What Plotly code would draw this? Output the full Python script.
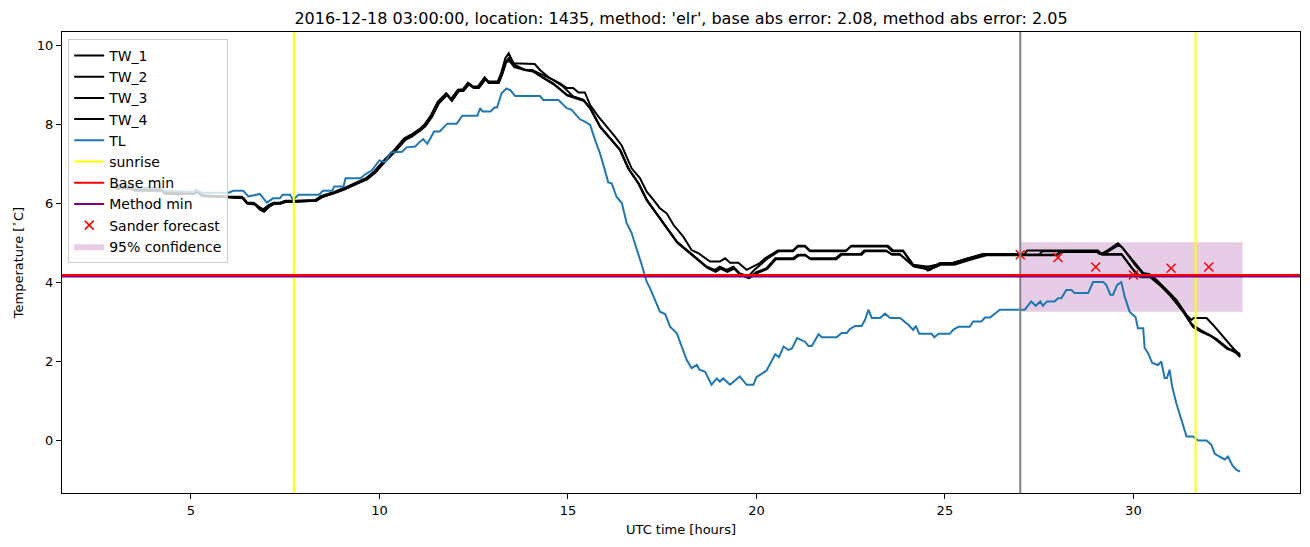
import plotly.graph_objects as go

# ---------------- data ----------------
tl_hours = [3.00, 3.40, 3.50, 4.20, 4.30, 5.05, 5.15, 5.30, 6.00, 6.12, 6.39, 6.52, 6.68, 6.83, 7.01, 7.18, 7.36, 7.43, 7.63, 7.71,
            7.85, 8.40, 8.50, 8.75, 8.80, 9.05, 9.10, 9.50, 9.60, 9.80, 10.00, 10.15, 10.30, 10.60, 10.72, 10.95, 11.05, 11.16,
            11.27, 11.45, 11.60, 11.80, 12.05, 12.20, 12.60, 12.67, 12.74, 12.95, 13.05, 13.12, 13.24, 13.37, 13.47, 13.60,
            14.26, 14.35, 14.75, 14.88, 14.97, 15.10, 15.19, 15.32, 15.45, 15.59, 15.72, 15.85, 15.98, 16.07, 16.16, 16.29,
            16.43, 16.56, 16.69, 16.82, 16.96, 17.09, 17.18, 17.31, 17.44, 17.58, 17.71, 17.89, 18.02, 18.15, 18.28, 18.42,
            18.49, 18.64, 18.81, 18.95, 19.03, 19.12, 19.30, 19.56, 19.74, 19.92, 20.00, 20.14, 20.27, 20.50, 20.60, 20.72,
            20.85, 20.94, 21.08, 21.29, 21.38, 21.47, 21.65, 21.74, 22.13, 22.26, 22.40, 22.48, 22.62, 22.79, 22.88, 22.97,
            23.06, 23.28, 23.41, 23.55, 23.81, 24.03, 24.16, 24.23, 24.32, 24.65, 24.72, 24.83, 25.13, 25.22, 25.36, 25.66,
            25.75, 25.97, 26.06, 26.20, 26.33, 26.46, 27.12, 27.29, 27.41, 27.53, 27.60, 27.71, 27.91, 28.00, 28.09, 28.22,
            28.36, 28.44, 28.80, 28.93, 29.20, 29.28, 29.39, 29.46, 29.57, 29.68, 29.77, 29.90, 30.06, 30.12, 30.26, 30.30,
            30.39, 30.50, 30.65, 30.74, 30.83, 30.89, 30.96, 31.03, 31.14, 31.27, 31.41, 31.58, 31.72, 31.94, 32.07, 32.16,
            32.29, 32.42, 32.51, 32.63, 32.73, 32.83]
tl_temp = [6.47, 6.47, 6.40, 6.40, 6.33, 6.30, 6.36, 6.28, 6.28, 6.33, 6.33, 6.19, 6.22, 6.25, 6.03, 6.14, 6.14, 6.23, 6.23, 6.10,
           6.23, 6.23, 6.33, 6.33, 6.44, 6.44, 6.65, 6.65, 6.73, 6.85, 7.10, 7.05, 7.30, 7.32, 7.43, 7.45, 7.55, 7.64,
           7.52, 7.83, 7.83, 8.03, 8.03, 8.23, 8.23, 8.42, 8.34, 8.34, 8.44, 8.44, 8.80, 8.92, 8.88, 8.73,
           8.73, 8.63, 8.63, 8.50, 8.42, 8.38, 8.29, 8.14, 8.08, 8.00, 7.62, 7.28, 6.86, 6.54, 6.52, 6.18,
           6.02, 5.51, 5.26, 4.88, 4.45, 4.03, 3.86, 3.57, 3.27, 3.21, 2.89, 2.72, 2.39, 2.05, 1.84, 1.92,
           1.80, 1.75, 1.42, 1.58, 1.50, 1.58, 1.42, 1.63, 1.42, 1.42, 1.61, 1.70, 1.78, 2.19, 2.12, 2.39,
           2.30, 2.33, 2.60, 2.51, 2.40, 2.40, 2.70, 2.62, 2.62, 2.73, 2.73, 2.83, 2.91, 2.91, 3.06, 3.32,
           3.11, 3.11, 3.22, 3.11, 3.11, 2.94, 2.81, 2.91, 2.71, 2.71, 2.62, 2.71, 2.71, 2.81, 2.89, 2.89,
           3.02, 3.02, 3.12, 3.12, 3.22, 3.32, 3.32, 3.53, 3.42, 3.53, 3.42, 3.53, 3.53, 3.61, 3.61, 3.82,
           3.82, 3.74, 3.74, 4.02, 4.02, 3.95, 3.70, 3.70, 3.95, 4.02, 3.65, 3.27, 3.13, 2.85, 2.85, 2.35,
           2.22, 1.97, 1.92, 2.01, 1.59, 1.59, 1.80, 1.37, 0.95, 0.53, 0.11, 0.11, 0.01, 0.01, -0.10, -0.33,
           -0.40, -0.47, -0.40, -0.63, -0.73, -0.78]

tw1_hours = [3.00, 3.40, 3.50, 4.20, 4.30, 5.05, 5.15, 5.30, 6.00, 6.35, 6.48, 6.66, 6.79, 6.92, 7.06, 7.19, 7.36, 7.50, 7.75,
             8.30, 8.46, 8.80, 9.06, 9.33, 9.64, 9.86, 10.13, 10.40, 10.66, 10.84, 11.06, 11.19, 11.37, 11.55, 11.77, 11.90,
             12.08, 12.21, 12.35, 12.48, 12.61, 12.79, 12.88, 13.14, 13.23, 13.34, 13.43, 13.55, 13.90, 14.12, 14.26, 14.52,
             14.79, 14.97, 15.14, 15.28, 15.45, 15.59, 15.81, 16.03, 16.25, 16.43, 16.56, 16.69, 16.91, 17.09, 17.27, 17.44,
             17.62, 17.80, 18.06, 18.28, 18.46, 18.77, 19.03, 19.17, 19.30, 19.52, 19.74, 19.92, 20.09, 20.23, 20.57, 20.97,
             21.10, 21.29, 21.42, 22.39, 22.52, 23.49, 23.63, 23.89, 24.16, 24.55, 24.60, 24.70, 24.87, 25.18, 25.58, 26.00,
             27.12, 27.18, 29.06, 29.15, 29.28, 29.46, 29.59, 29.68, 30.08, 30.26, 30.43, 30.61, 30.88, 31.14, 31.41, 31.54,
             31.60, 31.94, 32.11, 32.38, 32.64, 32.83]
tw1_temp = [6.42, 6.42, 6.37, 6.37, 6.29, 6.29, 6.34, 6.22, 6.18, 6.18, 6.03, 6.03, 5.93, 5.86, 5.97, 6.03, 6.03, 6.08, 6.08,
            6.10, 6.20, 6.30, 6.40, 6.52, 6.65, 6.82, 7.11, 7.37, 7.66, 7.75, 7.89, 8.00, 8.25, 8.59, 8.80, 8.65,
            8.89, 8.90, 9.07, 8.97, 8.97, 9.20, 9.10, 9.10, 9.31, 9.69, 9.81, 9.56, 9.54, 9.54, 9.39, 9.18,
            9.05, 8.93, 8.93, 8.82, 8.82, 8.50, 8.21, 7.96, 7.70, 7.47, 7.20, 6.90, 6.65, 6.31, 6.10, 5.89,
            5.76, 5.47, 5.17, 4.83, 4.75, 4.54, 4.54, 4.62, 4.51, 4.51, 4.33, 4.41, 4.50, 4.62, 4.82, 4.82,
            4.94, 4.94, 4.82, 4.82, 4.94, 4.94, 4.82, 4.82, 4.46, 4.41, 4.33, 4.41, 4.50, 4.50, 4.62, 4.73,
            4.73, 4.82, 4.82, 4.73, 4.80, 4.92, 5.00, 4.92, 4.46, 4.25, 4.22, 4.08, 3.82, 3.57, 3.19, 3.06,
            3.11, 3.11, 2.94, 2.64, 2.35, 2.17]

tw2_hours = [3.00, 3.45, 3.55, 4.25, 4.35, 5.05, 5.18, 5.30, 6.00, 6.40, 6.50, 6.70, 6.85, 6.95, 7.10, 7.22, 7.40, 7.52, 7.80,
             8.33, 8.50, 8.83, 9.10, 9.36, 9.67, 9.89, 10.16, 10.43, 10.69, 10.87, 11.09, 11.22, 11.40, 11.58, 11.80, 11.93,
             12.11, 12.24, 12.38, 12.51, 12.64, 12.82, 12.91, 13.17, 13.26, 13.37, 13.46, 13.59, 13.86, 14.05, 14.34, 14.61,
             14.87, 15.14, 15.41, 15.59, 15.85, 16.16, 16.38, 16.60, 16.87, 17.09, 17.35, 17.62, 17.89, 18.15, 18.42, 18.68,
             18.90, 19.03, 19.21, 19.39, 19.56, 19.79, 19.95, 20.14, 20.30, 20.60, 20.97, 21.10, 21.29, 21.42, 22.36, 22.50,
             23.47, 23.60, 23.89, 24.16, 24.50, 24.87, 25.20, 25.60, 26.00, 27.50, 27.58, 29.00, 29.10, 29.30, 29.50, 29.62,
             29.72, 30.05, 30.26, 30.50, 30.70, 31.00, 31.30, 31.55, 31.80, 32.00, 32.20, 32.50, 32.73, 32.83]
tw2_temp = [6.40, 6.40, 6.35, 6.35, 6.27, 6.27, 6.30, 6.20, 6.17, 6.15, 6.02, 6.00, 5.88, 5.82, 5.95, 6.02, 6.02, 6.06, 6.06,
            6.08, 6.18, 6.28, 6.38, 6.50, 6.62, 6.79, 7.08, 7.34, 7.62, 7.72, 7.86, 7.97, 8.22, 8.55, 8.76, 8.62,
            8.86, 8.87, 9.03, 8.94, 8.94, 9.16, 9.07, 9.07, 9.28, 9.62, 9.72, 9.52, 9.39, 9.39, 9.27, 9.14,
            8.97, 8.72, 8.63, 8.42, 7.96, 7.62, 7.37, 6.90, 6.52, 6.10, 5.76, 5.38, 5.04, 4.83, 4.62, 4.41,
            4.33, 4.41, 4.33, 4.41, 4.24, 4.17, 4.33, 4.50, 4.62, 4.80, 4.80, 4.92, 4.92, 4.80, 4.80, 4.92,
            4.92, 4.80, 4.80, 4.44, 4.40, 4.48, 4.50, 4.62, 4.71, 4.71, 4.80, 4.80, 4.73, 4.78, 4.90, 4.96,
            4.88, 4.45, 4.22, 4.15, 3.98, 3.70, 3.30, 2.95, 2.80, 2.70, 2.58, 2.35, 2.22, 2.12]

tw3_hours = [3.00, 3.40, 3.52, 4.22, 4.32, 5.08, 5.18, 5.32, 6.02, 6.38, 6.50, 6.70, 6.82, 6.94, 7.08, 7.21, 7.38, 7.52, 7.78,
             8.32, 8.48, 8.82, 9.08, 9.35, 9.66, 9.88, 10.15, 10.42, 10.68, 10.86, 11.08, 11.21, 11.39, 11.57, 11.79, 11.92,
             12.10, 12.23, 12.37, 12.50, 12.63, 12.81, 12.90, 13.16, 13.25, 13.36, 13.44, 13.57, 13.85, 14.05, 14.30, 14.61,
             14.97, 15.41, 15.59, 15.85, 16.16, 16.38, 16.60, 16.87, 17.09, 17.35, 17.62, 17.89, 18.15, 18.42, 18.68, 18.90,
             19.03, 19.21, 19.39, 19.56, 19.79, 20.00, 20.27, 20.50, 20.97, 21.10, 21.29, 21.42, 22.10, 22.24, 22.77, 22.86,
             23.44, 23.58, 23.80, 24.16, 24.45, 24.55, 24.65, 24.90, 25.20, 25.62, 26.05, 28.00, 28.09, 29.06, 29.15, 29.68,
             30.00, 30.17, 30.43, 30.70, 30.96, 31.32, 31.58, 31.80, 32.02, 32.20, 32.47, 32.73, 32.83]
tw3_temp = [6.38, 6.38, 6.33, 6.33, 6.25, 6.25, 6.31, 6.20, 6.16, 6.14, 6.00, 5.98, 5.86, 5.80, 5.93, 6.00, 6.00, 6.05, 6.05,
            6.08, 6.17, 6.27, 6.37, 6.49, 6.62, 6.78, 7.07, 7.33, 7.62, 7.70, 7.85, 7.96, 8.20, 8.54, 8.76, 8.61,
            8.85, 8.86, 9.03, 8.93, 8.93, 9.16, 9.06, 9.06, 9.27, 9.60, 9.66, 9.48, 9.40, 9.37, 9.22, 9.05,
            8.76, 8.63, 8.42, 7.96, 7.62, 7.37, 6.90, 6.52, 6.10, 5.76, 5.38, 5.04, 4.83, 4.62, 4.41, 4.30,
            4.38, 4.30, 4.38, 4.22, 4.12, 4.27, 4.37, 4.62, 4.62, 4.71, 4.71, 4.62, 4.62, 4.73, 4.73, 4.82,
            4.82, 4.73, 4.73, 4.43, 4.40, 4.31, 4.40, 4.48, 4.48, 4.60, 4.71, 4.71, 4.80, 4.80, 4.73, 4.73,
            4.33, 4.16, 4.16, 3.95, 3.70, 3.27, 2.89, 2.77, 2.68, 2.56, 2.35, 2.26, 2.13]

tw4_hours = [3.00, 3.42, 3.50, 4.20, 4.30, 5.06, 5.16, 5.28, 6.00, 6.36, 6.48, 6.68, 6.80, 6.93, 7.07, 7.20, 7.37, 7.51, 7.76,
             8.31, 8.47, 8.81, 9.07, 9.34, 9.65, 9.87, 10.14, 10.41, 10.67, 10.85, 11.07, 11.20, 11.38, 11.56, 11.78, 11.91,
             12.09, 12.22, 12.36, 12.49, 12.62, 12.80, 12.89, 13.15, 13.24, 13.35, 13.45, 13.58, 13.88, 14.08, 14.32, 14.63,
             14.99, 15.43, 15.61, 15.87, 16.18, 16.40, 16.62, 16.89, 17.11, 17.37, 17.64, 17.91, 18.17, 18.44, 18.70, 18.92,
             19.05, 19.23, 19.41, 19.58, 19.81, 20.02, 20.29, 20.52, 20.99, 21.12, 21.31, 21.44, 22.12, 22.26, 22.79, 22.88,
             23.46, 23.60, 23.82, 24.18, 24.50, 24.60, 24.90, 25.25, 25.65, 26.10, 27.95, 28.05, 29.06, 29.17, 29.70, 30.02,
             30.20, 30.45, 30.72, 30.98, 31.34, 31.60, 31.82, 32.04, 32.22, 32.49, 32.75, 32.83]
tw4_temp = [6.40, 6.40, 6.35, 6.35, 6.27, 6.27, 6.32, 6.21, 6.17, 6.16, 6.02, 6.01, 5.90, 5.84, 5.95, 6.01, 6.01, 6.06, 6.06,
            6.09, 6.18, 6.28, 6.38, 6.50, 6.63, 6.80, 7.09, 7.35, 7.64, 7.73, 7.87, 7.98, 8.23, 8.57, 8.78, 8.63,
            8.87, 8.88, 9.05, 8.95, 8.95, 9.18, 9.08, 9.08, 9.29, 9.58, 9.62, 9.46, 9.38, 9.35, 9.20, 9.02,
            8.74, 8.60, 8.40, 7.93, 7.59, 7.34, 6.87, 6.49, 6.07, 5.73, 5.35, 5.01, 4.80, 4.59, 4.38, 4.28,
            4.36, 4.28, 4.36, 4.20, 4.12, 4.25, 4.35, 4.60, 4.60, 4.69, 4.69, 4.60, 4.60, 4.71, 4.71, 4.80,
            4.80, 4.71, 4.71, 4.41, 4.35, 4.33, 4.46, 4.46, 4.58, 4.70, 4.70, 4.78, 4.78, 4.71, 4.71, 4.30,
            4.14, 4.14, 3.93, 3.68, 3.25, 2.87, 2.75, 2.66, 2.54, 2.33, 2.24, 2.20]

sunrise_hours = [7.73, 31.65]
forecast_start = 27.0
base_min = 4.20
method_min = 4.16
sander_hours = [27, 28, 29, 30, 31, 32]
sander_temp = [4.71, 4.64, 4.40, 4.20, 4.37, 4.40]
conf_start, conf_end = 27.0, 32.9
conf_low, conf_high = 3.27, 5.03

title = "2016-12-18 03:00:00, location: 1435, method: 'elr', base abs error: 2.08, method abs error: 2.05"
x_ticks = [5, 10, 15, 20, 25, 30]
y_ticks = [0, 2, 4, 6, 8, 10]

# ---------------- figure ----------------
FONT = "DejaVu Sans"
fig = go.Figure()

# confidence band (drawn first, sits below lines)
fig.add_trace(go.Scatter(
    x=[conf_start, conf_end, conf_end, conf_start, conf_start],
    y=[conf_low, conf_low, conf_high, conf_high, conf_low],
    fill="toself", fillcolor="rgba(128,0,128,0.2)", line=dict(width=0),
    mode="lines", name="95% confidence", legendrank=1010, hoverinfo="skip"))

tws = [("TW_1", tw1_hours, tw1_temp), ("TW_2", tw2_hours, tw2_temp),
       ("TW_3", tw3_hours, tw3_temp), ("TW_4", tw4_hours, tw4_temp)]
for i, (name, xs, ys) in enumerate(tws):
    fig.add_trace(go.Scatter(x=xs, y=ys, mode="lines", name=name,
                             line=dict(color="black", width=2), legendrank=1000 + i))
fig.add_trace(go.Scatter(x=tl_hours, y=tl_temp, mode="lines", name="TL",
                         line=dict(color="#1f77b4", width=2), legendrank=1004))

# legend-only entries for reference lines
fig.add_trace(go.Scatter(x=[None], y=[None], mode="lines", name="sunrise",
                         line=dict(color="#ffff00", width=2), legendrank=1005))
fig.add_trace(go.Scatter(x=[None], y=[None], mode="lines", name="Base min",
                         line=dict(color="red", width=2), legendrank=1006))
fig.add_trace(go.Scatter(x=[None], y=[None], mode="lines", name="Method min",
                         line=dict(color="purple", width=2), legendrank=1007))

# vertical / horizontal reference lines
for h in sunrise_hours:
    fig.add_shape(type="line", xref="x", yref="paper", x0=h, x1=h, y0=0, y1=1,
                  line=dict(color="#ffff00", width=2), layer="above")
fig.add_shape(type="line", xref="x", yref="paper", x0=forecast_start, x1=forecast_start, y0=0, y1=1,
              line=dict(color="grey", width=2), layer="above")
fig.add_shape(type="line", xref="paper", yref="y", x0=0, x1=1, y0=method_min, y1=method_min,
              line=dict(color="purple", width=2), layer="above")
fig.add_shape(type="line", xref="paper", yref="y", x0=0, x1=1, y0=base_min, y1=base_min,
              line=dict(color="red", width=2), layer="above")

fig.add_trace(go.Scatter(x=sander_hours, y=sander_temp, mode="markers", name="Sander forecast",
                         marker=dict(symbol="x-thin", size=9, color="red",
                                     line=dict(color="red", width=1.5)),
                         legendrank=1008))

fig.update_layout(
    width=1310, height=547,
    paper_bgcolor="white", plot_bgcolor="white",
    font=dict(family=FONT, size=13, color="black"),
    margin=dict(l=62, r=10, t=32, b=54, autoexpand=False),
    title=dict(text=title, x=0.5, xref="paper", xanchor="center", y=1 - 18 / 547, yanchor="middle",
               font=dict(family=FONT, size=16, color="black")),
    showlegend=True,
    legend=dict(x=0.005, y=0.985, xanchor="left", yanchor="top",
                bgcolor="rgba(255,255,255,0.8)", bordercolor="#cccccc", borderwidth=1,
                font=dict(family=FONT, size=14, color="black"), itemwidth=30,
                tracegroupgap=0),
    xaxis=dict(range=[1.58, 34.42], tickvals=x_ticks, ticks="outside", ticklen=5, tickwidth=1,
               tickcolor="black", showline=True, linecolor="black", linewidth=1, mirror=True,
               showgrid=False, zeroline=False,
               title=dict(text="UTC time [hours]", standoff=8, font=dict(size=13)),
               tickfont=dict(size=13)),
    yaxis=dict(range=[-1.32, 10.35], tickvals=y_ticks, ticks="outside", ticklen=5, tickwidth=1,
               tickcolor="black", showline=True, linecolor="black", linewidth=1, mirror=True,
               showgrid=False, zeroline=False,
               title=dict(text="Temperature [<sup>∘</sup>C]", standoff=10, font=dict(size=13)),
               tickfont=dict(size=13)),
)

fig.write_html("out.html", config={"displayModeBar": False},
               post_script="document.body.style.margin='0px';document.body.style.overflow='hidden';")
